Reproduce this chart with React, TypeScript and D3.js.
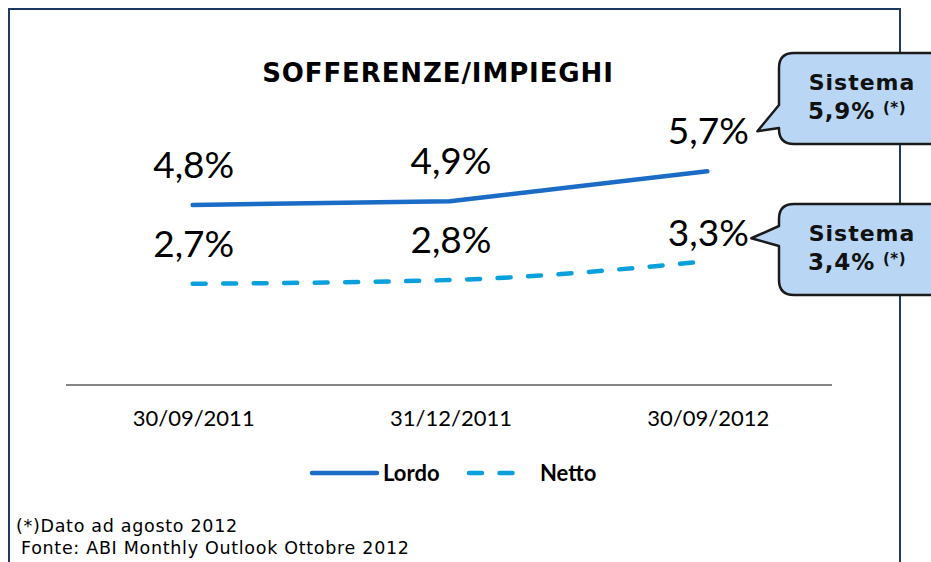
import React from "react";
import * as d3 from "d3";

// dati
const categories = ["30/09/2011", "31/12/2011", "30/09/2012"];
const lordo = [4.8, 4.9, 5.7];
const netto = [2.7, 2.8, 3.3];
const sistema = [5.9, 3.4]; // lordo, netto (dato ad agosto 2012)
const seriesNames = ["Lordo", "Netto"];

const W = 931;
const H = 562;
const calibri = "Lato, 'Liberation Sans', sans-serif";
const verdana = "'DejaVu Sans', Verdana, sans-serif";
const fmt = (v: number) => v.toFixed(1).replace(".", ",") + "%";

function calloutPath(x0: number, y0: number, x1: number, y1: number, r: number, ya: number, yb: number, tx: number, ty: number) {
  return `M${x0 + r},${y0} H${x1 - r} Q${x1},${y0} ${x1},${y0 + r} V${y1 - r} Q${x1},${y1} ${x1 - r},${y1} H${x0 + r} Q${x0},${y1} ${x0},${y1 - r} V${yb} L${tx},${ty} L${x0},${ya} V${y0 + r} Q${x0},${y0} ${x0 + r},${y0} Z`;
}

function App() {
  const x = d3.scaleBand().domain(categories).range([64, 836]);
  const y = d3.scaleLinear().domain([0, 6]).range([385, 160]);
  const cx = (c: string) => (x(c) ?? 0) + x.bandwidth() / 2;

  const series = [
    { name: seriesNames[0], values: lordo, color: "#1a6cc6", dash: null, curve: d3.curveLinear },
    { name: seriesNames[1], values: netto, color: "#0aa0dc", dash: "13,17.5", curve: d3.curveMonotoneX },
  ];

  const last = categories.length - 1;

  return (
    <svg width={W} height={H} style={{ position: "absolute", left: 0, top: 0, background: "#fff" }}>
      {/* cornice */}
      <path d="M9,580 V9 H900 V580" fill="none" stroke="#1f3a60" strokeWidth={2} />

      <text x={438} y={82} textAnchor="middle" fontFamily={verdana} fontWeight="bold" fontSize={26} letterSpacing={0.9} fill="#000">
        SOFFERENZE/IMPIEGHI
      </text>

      {/* asse */}
      <line x1={x.range()[0] + 2} x2={x.range()[1] - 4} y1={y(0)} y2={y(0)} stroke="#868686" strokeWidth={2} />
      {categories.map((c) => (
        <text key={c} x={cx(c) + 1} y={426} textAnchor="middle" fontFamily={calibri} fontSize={22} fill="#000">
          {c}
        </text>
      ))}

      {series.map((s) => {
        const line = d3
          .line<number>()
          .x((_, i) => cx(categories[i]))
          .y((v) => y(v))
          .curve(s.curve);
        return (
          <g key={s.name}>
            <path d={line(s.values) ?? ""} fill="none" stroke={s.color} strokeWidth={4.5} strokeLinecap="round" strokeDasharray={s.dash ?? undefined} />
            {s.values.map((v, i) => (
              <text
                key={i}
                x={cx(categories[i]) + 1}
                y={y(v) - (s.name === "Netto" && i === last ? 15 : 27)}
                textAnchor="middle"
                fontFamily={calibri}
                fontSize={37}
                fill="#000"
              >
                {fmt(v)}
              </text>
            ))}
          </g>
        );
      })}

      {/* callout Sistema */}
      {sistema.map((v, i) => {
        const s = series[i];
        const ly = y(s.values[last]) - (i === 1 ? 15 : 27);
        const tx = cx(categories[last]) + 48;
        const ty = i === 0 ? ly - 13 : ly - 8;
        const y0 = i === 0 ? 53 : 204;
        const y1 = y0 + 91;
        const ya = i === 0 ? 105 : 226;
        const yb = i === 0 ? 128 : 246;
        return (
          <g key={i}>
            <path d={calloutPath(779, y0, 950, y1, 15, ya, yb, i === 0 ? tx + 2 : tx - 4, ty)} fill="#b9d7f5" stroke="#1a1a1a" strokeWidth={2.5} strokeLinejoin="round" />
            <text x={862} y={y0 + 37} textAnchor="middle" fontFamily={verdana} fontWeight="bold" fontSize={22} letterSpacing={1} fill="#111">
              Sistema
            </text>
            <text x={808} y={y0 + 66} fontFamily={verdana} fontWeight="bold" fontSize={23} letterSpacing={0.8} fill="#111">
              {fmt(v)}
              <tspan dx={8} dy={-6} fontSize={15} letterSpacing={0.5}>(*)</tspan>
            </text>
          </g>
        );
      })}

      {/* legenda */}
      <line x1={312} x2={377} y1={473} y2={473} stroke={series[0].color} strokeWidth={4.5} strokeLinecap="round" />
      <text x={383} y={481} fontFamily={calibri} fontWeight="bold" fontSize={22} fill="#000">
        {series[0].name}
      </text>
      <line x1={469} x2={515} y1={473} y2={473} stroke={series[1].color} strokeWidth={4.5} strokeLinecap="round" strokeDasharray="13,17.5" />
      <text x={540} y={481} fontFamily={calibri} fontWeight="bold" fontSize={22} fill="#000">
        {series[1].name}
      </text>

      {/* note */}
      <text x={16} y={532} fontFamily={verdana} fontSize={17.5} letterSpacing={0.7} fill="#000">
        (*)Dato ad agosto 2012
      </text>
      <text x={21} y={554} fontFamily={verdana} fontSize={17.5} letterSpacing={0.7} fill="#000">
        Fonte: ABI Monthly Outlook Ottobre 2012
      </text>
    </svg>
  );
}

export default App;
